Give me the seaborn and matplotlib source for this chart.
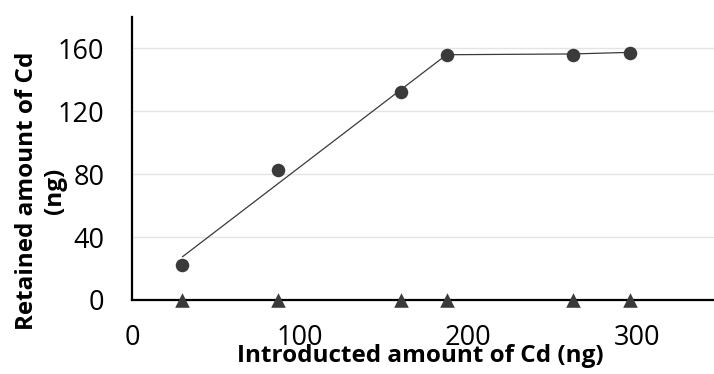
import matplotlib
matplotlib.use("Agg")
import matplotlib.pyplot as plt
import seaborn as sns
import pandas as pd

# Data
introduced = [30, 87, 160, 187, 262, 296]
retained = [22, 83, 132, 156, 156, 157]
second_series = [0, 0, 0, 0, 0, 0]
fit_x = [30, 187, 262, 296]
fit_y = [27.5, 156, 156.5, 157.5]
x_ticks = [0, 100, 200, 300]
y_ticks = [0, 40, 80, 120, 160]

sns.set_theme(style="white")
plt.rcParams['font.family'] = ['Open Sans', 'DejaVu Sans']

fig = plt.figure(figsize=(7.14, 3.74), dpi=100)
ax = fig.add_axes([132/714, 74/374, 1 - 132/714, 283/374])

df_pts = pd.DataFrame({"x": introduced, "y": retained})
df_zero = pd.DataFrame({"x": introduced, "y": second_series})
df_fit = pd.DataFrame({"x": fit_x, "y": fit_y})

dark = "#3a3a3a"
sns.lineplot(data=df_fit, x="x", y="y", ax=ax, color=dark, linewidth=0.9, zorder=3)
sns.scatterplot(data=df_pts, x="x", y="y", ax=ax, color=dark, marker="o", s=95,
                edgecolor=dark, linewidth=0, zorder=4)
sns.scatterplot(data=df_zero, x="x", y="y", ax=ax, color=dark, marker="^", s=110,
                edgecolor=dark, linewidth=0, zorder=5, clip_on=False)

ax.set_xlim(0, 346)
ax.set_ylim(0, 180)
ax.set_xticks(x_ticks)
ax.set_yticks(y_ticks)
ax.set_xticklabels([str(v) for v in x_ticks])
ax.set_yticklabels([str(v) for v in y_ticks])

for v in y_ticks[1:]:
    ax.axhline(v, color="#e4e4e4", linewidth=1.0, zorder=1)

for s in ["top", "right"]:
    ax.spines[s].set_visible(False)
for s in ["left", "bottom"]:
    ax.spines[s].set_color("black")
    ax.spines[s].set_linewidth(1.6)
    ax.spines[s].set_zorder(2)

ax.tick_params(axis="x", length=0, pad=17, labelsize=19.5, colors="black")
ax.tick_params(axis="y", length=0, pad=20, labelsize=19.5, colors="black")

ax.set_xlabel("Introducted amount of Cd (ng)", fontsize=17.5, fontweight="bold", color="black")
ax.set_ylabel("Retained amount of Cd\n(ng)", fontsize=17.5, fontweight="bold", color="black",
              linespacing=1.2)
ax.xaxis.set_label_coords(0.495, -0.198)
ax.xaxis.label.set_verticalalignment("center")
ax.yaxis.set_label_coords((41 - 132) / 582, 0.385)
ax.yaxis.label.set_verticalalignment("center")

fig.savefig("out.png", dpi=100)
